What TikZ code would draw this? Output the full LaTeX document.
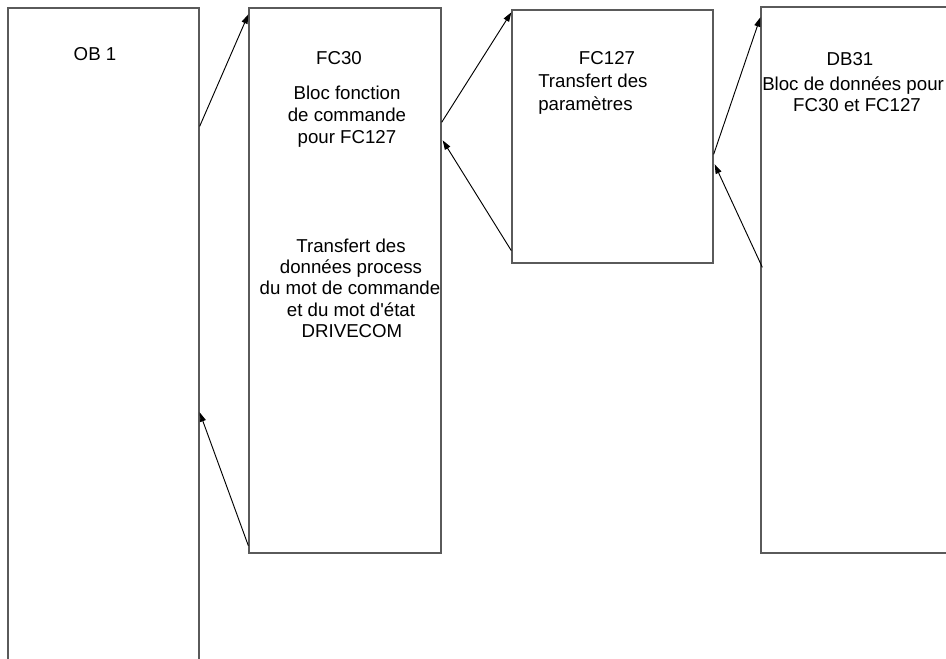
\documentclass[tikz,border=0pt]{standalone}
\usepackage{fontspec}
\setmainfont{Liberation Sans}
\usetikzlibrary{arrows.meta,calc,fit}
\definecolor{boxgray}{RGB}{90,90,90}
\begin{document}
\begin{tikzpicture}[x=0.75pt,y=-0.75pt,
  blk/.style={draw=boxgray,line width=1pt,inner sep=0pt},
  arr/.style={draw=black,line width=0.7pt,-{Triangle[length=7pt,width=4.6pt]}},
  lbl/.style={font=\fontsize{14}{16}\selectfont,inner sep=0pt,anchor=base}]
\clip (0,0) rectangle (946,659);
% blocks
\node[blk,fit={(8,8)(199,690)}] (ob1) {};
\node[blk,fit={(249,8)(441,553)}] (fc30) {};
\node[blk,fit={(512,10)(713,263)}] (fc127) {};
\node[blk,fit={(761,7)(990,553)}] (db31) {};
% labels
\node[lbl] (tob1) at (95,61) {OB 1};
\node[lbl] (tfc30) at (339,65) {FC30};
\node[lbl] (tfc30a) at (347,100) {Bloc fonction};
\node[lbl] (tfc30b) at (347,122) {de commande};
\node[lbl] (tfc30c) at (347,144) {pour FC127};
\node[lbl] (tfc30d) at (351,253) {Transfert des};
\node[lbl] (tfc30e) at (351,274) {données process};
\node[lbl] (tfc30f) at (350,295) {du mot de commande};
\node[lbl] (tfc30g) at (351,316) {et du mot d\textquotesingle état};
\node[lbl] (tfc30h) at (352,337) {DRIVECOM};
\node[lbl] (tfc127) at (607,65) {FC127};
\node[lbl,anchor=base west] (tfc127a) at (538,88) {Transfert des};
\node[lbl,anchor=base west] (tfc127b) at (538,111) {paramètres};
\node[lbl] (tdb31) at (850,66) {DB31};
\node[lbl,anchor=base west] (tdb31a) at (762,91) {Bloc de données pour};
\node[lbl] (tdb31b) at (857,112) {FC30 et FC127};
% connectors
\draw[arr] ($(ob1.north east)+(0,119)$) -- ($(fc30.north west)+(0,7)$);
\draw[arr] ($(fc30.south west)+(0,-8)$) -- ($(ob1.north east)+(0,405)$);
\draw[arr] ($(fc30.north east)+(0,115)$) -- ($(fc127.north west)+(0,3)$);
\draw[arr] ($(fc127.south west)+(0,-13)$) -- ($(fc30.north east)+(1,133)$);
\draw[arr] ($(fc127.north east)+(0,145)$) -- ($(db31.north west)+(0,11)$);
\draw[arr] ($(db31.north west)+(2,261)$) -- ($(fc127.north east)+(1,155)$);
\end{tikzpicture}
\end{document}
